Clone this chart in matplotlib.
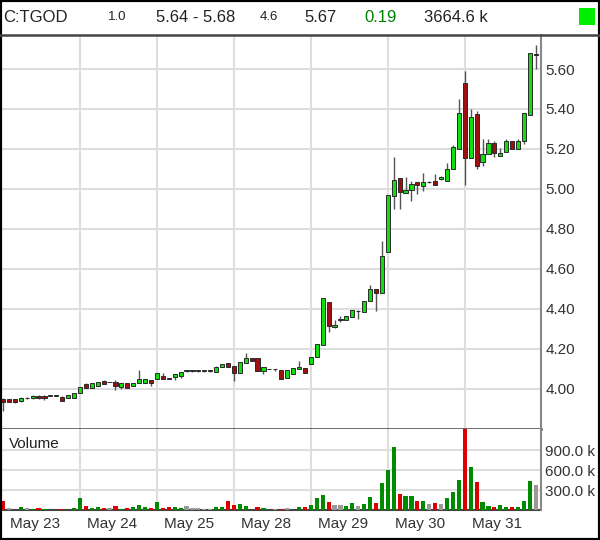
import numpy as np
import matplotlib
matplotlib.use('Agg')
from matplotlib import pyplot as plt
from matplotlib.patches import Rectangle
from matplotlib.lines import Line2D
import matplotlib.transforms as mtransforms

plt.rcParams['font.family'] = ['Liberation Sans', 'DejaVu Sans']

#%% data: 30 min bars, 13 per session

days = ['May 23', 'May 24', 'May 25', 'May 28', 'May 29', 'May 30', 'May 31']
bars_per_day = 13

opens = [3.952, 3.948, 3.950, 3.940, 3.955, 3.953, 3.967, 3.967, 3.967, 3.967, 3.958, 3.953, 3.953,
         3.978, 4.023, 4.003, 4.013, 4.040, 4.036, 4.037, 4.008, 4.028, 4.015, 4.032, 4.032, 4.045,
         4.050, 4.063, 4.057, 4.058, 4.067, 4.092, 4.092, 4.092, 4.092, 4.092, 4.087, 4.112, 4.128,
         4.117, 4.078, 4.130, 4.153, 4.153, 4.088, 4.100, 4.100, 4.097, 4.053, 4.075, 4.100, 4.105,
         4.125, 4.158, 4.220, 4.433, 4.312, 4.345, 4.347, 4.358, 4.388, 4.387, 4.438, 4.500, 4.480,
         4.683, 4.967, 5.053, 4.978, 4.997, 5.033, 5.017, 5.036, 5.040, 5.052, 5.040, 5.098, 5.198,
         5.532, 5.153, 5.373, 5.135, 5.173, 5.232, 5.165, 5.185, 5.240, 5.198, 5.240, 5.368, 5.675]
highs = [3.957, 3.950, 3.952, 3.958, 3.962, 3.968, 3.968, 3.968, 3.967, 3.967, 3.963, 3.970, 3.978,
         4.012, 4.032, 4.028, 4.037, 4.045, 4.037, 4.045, 4.028, 4.028, 4.032, 4.095, 4.050, 4.045,
         4.080, 4.078, 4.057, 4.075, 4.083, 4.092, 4.092, 4.092, 4.092, 4.092, 4.117, 4.125, 4.128,
         4.117, 4.133, 4.180, 4.153, 4.153, 4.112, 4.100, 4.100, 4.097, 4.097, 4.103, 4.138, 4.105,
         4.162, 4.225, 4.453, 4.433, 4.345, 4.367, 4.363, 4.393, 4.393, 4.442, 4.520, 4.500, 4.742,
         4.972, 5.158, 5.053, 5.058, 5.038, 5.033, 5.078, 5.040, 5.077, 5.065, 5.128, 5.218, 5.448,
         5.590, 5.398, 5.390, 5.248, 5.248, 5.240, 5.207, 5.248, 5.240, 5.248, 5.382, 5.678, 5.718]
lows = [3.890, 3.935, 3.928, 3.935, 3.950, 3.952, 3.952, 3.945, 3.967, 3.967, 3.940, 3.953, 3.953,
        3.978, 4.003, 4.003, 4.013, 4.027, 4.033, 3.995, 3.998, 4.007, 4.015, 4.032, 4.032, 4.017,
        4.050, 4.050, 4.050, 4.045, 4.053, 4.083, 4.083, 4.083, 4.083, 4.083, 4.087, 4.112, 4.112,
        4.042, 4.078, 4.130, 4.142, 4.088, 4.075, 4.100, 4.092, 4.050, 4.053, 4.075, 4.100, 4.078,
        4.125, 4.158, 4.220, 4.283, 4.303, 4.333, 4.347, 4.358, 4.350, 4.387, 4.438, 4.392, 4.480,
        4.683, 4.900, 4.900, 4.978, 4.942, 4.975, 4.992, 5.030, 5.020, 5.045, 5.040, 5.098, 5.198,
        5.020, 5.153, 5.100, 5.115, 5.173, 5.160, 5.165, 5.185, 5.198, 5.198, 5.223, 5.368, 5.598]
closes = [3.935, 3.937, 3.933, 3.957, 3.956, 3.967, 3.953, 3.953, 3.967, 3.967, 3.942, 3.970, 3.978,
          4.012, 4.003, 4.028, 4.037, 4.027, 4.034, 4.015, 4.028, 4.007, 4.032, 4.048, 4.050, 4.028,
          4.080, 4.050, 4.050, 4.075, 4.083, 4.092, 4.092, 4.092, 4.092, 4.092, 4.112, 4.125, 4.112,
          4.078, 4.133, 4.153, 4.142, 4.088, 4.112, 4.100, 4.100, 4.050, 4.097, 4.103, 4.112, 4.078,
          4.162, 4.225, 4.453, 4.317, 4.322, 4.352, 4.363, 4.393, 4.392, 4.442, 4.500, 4.480, 4.663,
          4.972, 5.043, 4.983, 4.995, 5.025, 5.020, 5.033, 5.034, 5.020, 5.058, 5.100, 5.212, 5.382,
          5.157, 5.362, 5.115, 5.173, 5.232, 5.178, 5.182, 5.240, 5.198, 5.240, 5.382, 5.678, 5.670]

# volume in thousands, colour code g/r/n
volume = [135, 25, 5, 45, 25, 8, 25, 8, 0, 0, 15, 5, 35,
          180, 55, 25, 45, 35, 25, 60, 8, 25, 45, 80, 45, 35,
          115, 25, 40, 45, 35, 55, 30, 30, 15, 15, 50, 40, 135,
          70, 85, 60, 5, 45, 30, 5, 10, 15, 25, 5, 40, 50,
          75, 180, 225, 120, 70, 70, 55, 105, 55, 95, 200, 105, 400,
          595, 950, 235, 205, 205, 140, 140, 85, 105, 85, 175, 270, 445,
          1300, 645, 420, 125, 55, 50, 70, 45, 40, 50, 130, 435, 380]
vol_dir = list('rnngngrgnnrgg'
               'grggrnrgrgggr'
               'grrggnnnnnggr'
               'rggrrgnnrnggr'
               'gggrnnggnggrg'
               'ggrggrgnrnggg'
               'rgrggrggrgggn')

price_ticks = [4.00, 4.20, 4.40, 4.60, 4.80, 5.00, 5.20, 5.40, 5.60]
vol_ticks = [300, 600, 900]
vol_tick_labels = ['300.0 k', '600.0 k', '900.0 k']

#%%

fig = plt.figure(figsize=(6, 5.4), dpi=100)
fig.patch.set_facecolor('white')

ax = fig.add_axes([2/600, 1 - 429/540, 539/600, 394/540])
ax_vol = fig.add_axes([2/600, 1 - 510/540, 539/600, 81/540], sharex=ax)

idx = np.arange(len(opens))
o = np.array(opens)
c = np.array(closes)
up = c >= o
body_bottom = np.minimum(o, c)
body_height = np.maximum(np.abs(c - o), 0.002)
body_colors = ['#11dd11' if u else '#9e1010' for u in up]

ax.vlines(idx, lows, highs, color='#555555', linewidth=1.0, zorder=2)
ax.bar(idx, body_height, bottom=body_bottom, width=0.7, color=body_colors,
       edgecolor='#2a2a2a', linewidth=0.7, zorder=3)

ax.set_xlim(-0.17, 90.88)
ax.set_ylim(3.80, 5.77)
day_edges = [bars_per_day * k for k in range(1, len(days))]
ax.set_xticks(day_edges)
ax.set_yticks(price_ticks)
ax.set_yticklabels(['%.2f' % p for p in price_ticks])
ax.yaxis.tick_right()
ax.tick_params(axis='y', length=0, pad=3, labelsize=11, labelcolor='#333333')
ax.tick_params(axis='x', length=0, labelbottom=False)
ax.grid(True, color='#dddddd', linewidth=1.5, zorder=0)
ax.set_axisbelow(True)
for s in ['top', 'left', 'right']:
    ax.spines[s].set_visible(False)
ax.spines['bottom'].set_color('#444444')
ax.spines['bottom'].set_linewidth(1.8)

vol_colors = {'g': '#008a00', 'r': '#dd0000', 'n': '#999999'}
ax_vol.bar(idx, volume, width=0.7, color=[vol_colors[d] for d in vol_dir], zorder=3)
ax_vol.set_ylim(0, 1215)
ax_vol.set_yticks(vol_ticks)
ax_vol.set_yticklabels(vol_tick_labels)
ax_vol.yaxis.tick_right()
ax_vol.tick_params(axis='y', length=0, pad=3, labelsize=11, labelcolor='#333333')
ax_vol.tick_params(axis='x', length=0, labelbottom=False)
ax_vol.grid(True, color='#dddddd', linewidth=1.5, zorder=0)
ax_vol.set_axisbelow(True)
for s in ['top', 'left', 'right']:
    ax_vol.spines[s].set_visible(False)
ax_vol.spines['bottom'].set_color('#444444')
ax_vol.spines['bottom'].set_linewidth(1.5)
ax_vol.text(0.012, 0.82, 'Volume', transform=ax_vol.transAxes, fontsize=11,
            color='#222222', va='center', ha='left')

# date labels under the volume panel
trans = mtransforms.blended_transform_factory(ax_vol.transData, fig.transFigure)
for k, d in enumerate(days):
    ax_vol.text(bars_per_day * k + 5.4, 1 - 524/540, d, transform=trans,
                ha='center', va='center', fontsize=11, color='#333333')

# right axis line
fig.add_artist(Line2D([541/600, 541/600], [1 - 510/540, 1 - 35/540],
                      color='#888888', linewidth=1.5))

# header
fig.add_artist(Line2D([0, 1], [1 - 35/540, 1 - 35/540], color='#444444', linewidth=1.8))
hy = 1 - 17/540
fig.text(3/600, hy, 'C:TGOD', fontsize=12, color='#222222', va='center', ha='left')
fig.text(108/600, hy, '1.0', fontsize=9.5, color='#222222', va='center', ha='left')
fig.text(156/600, hy, '5.64 - 5.68', fontsize=12, color='#222222', va='center', ha='left')
fig.text(260/600, hy, '4.6', fontsize=9.5, color='#222222', va='center', ha='left')
fig.text(304/600, hy, '5.67', fontsize=12, color='#222222', va='center', ha='left')
fig.text(364/600, hy, '0.19', fontsize=12, color='#008000', va='center', ha='left')
fig.text(424/600, hy, '3664.6 k', fontsize=12, color='#222222', va='center', ha='left')
fig.add_artist(Rectangle((579/600, 1 - 25/540), 16/600, 17/540, transform=fig.transFigure,
                         facecolor='#00ee00', edgecolor='none'))

# outer border
fig.add_artist(Rectangle((0, 0), 1, 1, transform=fig.transFigure, fill=False,
                         edgecolor='black', linewidth=3))

plt.savefig('out.png', dpi=100)
